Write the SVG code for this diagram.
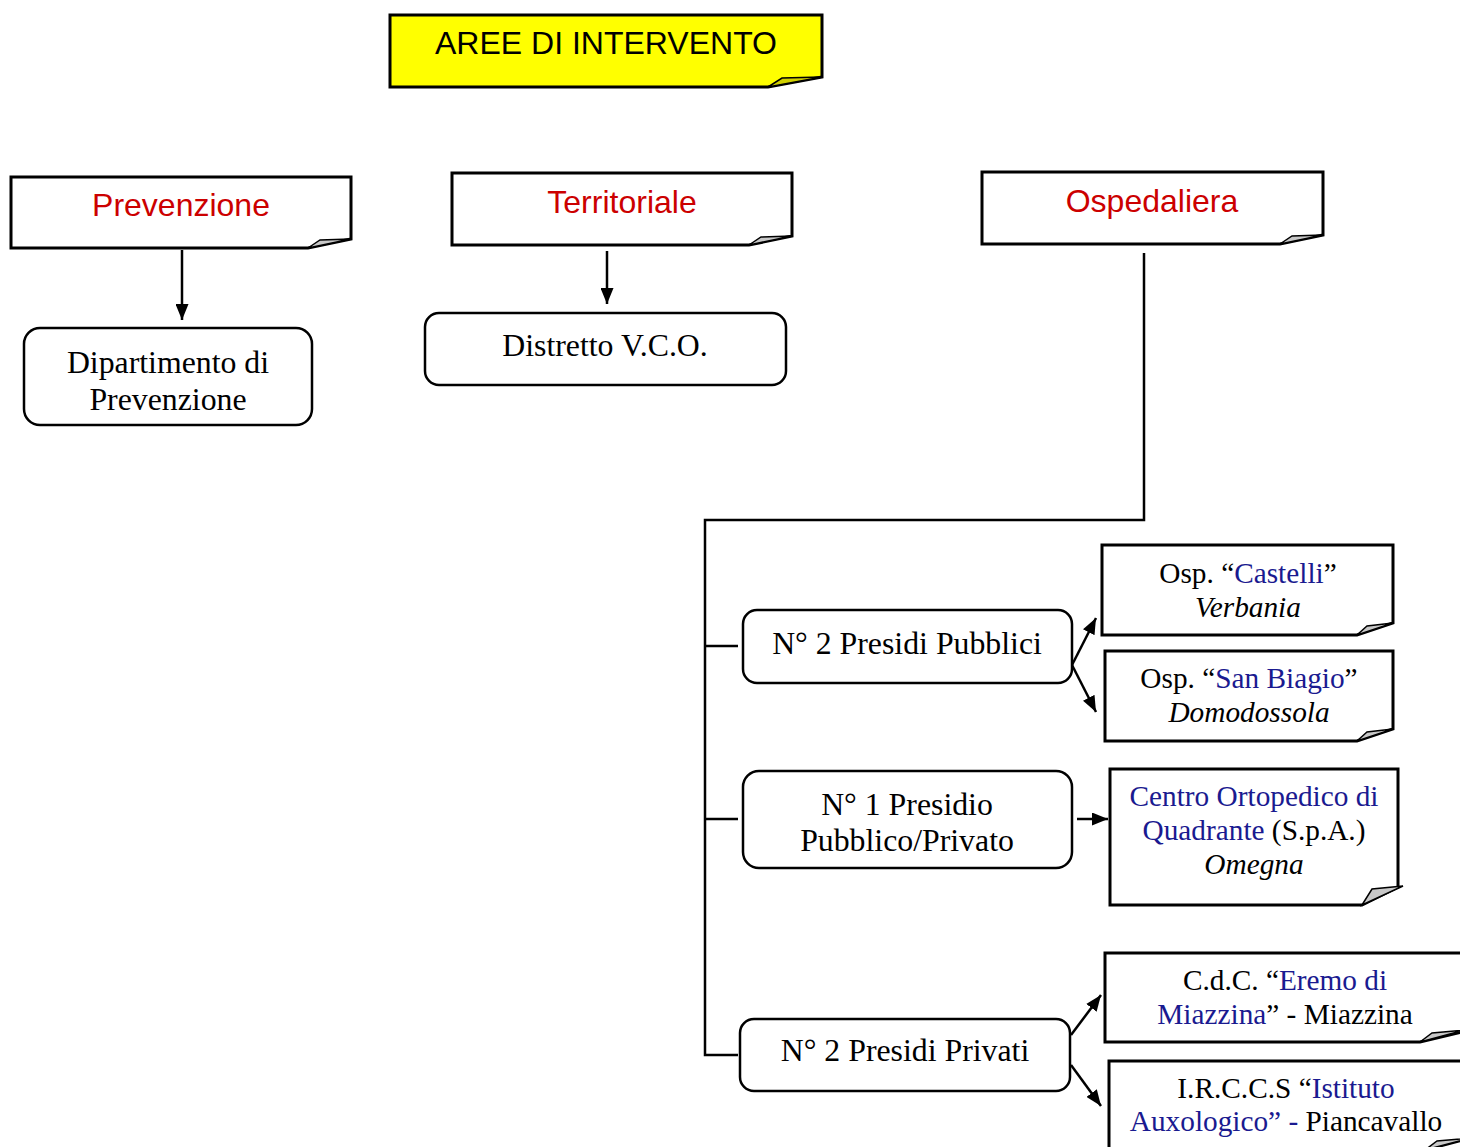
<svg xmlns="http://www.w3.org/2000/svg" width="1460" height="1147" viewBox="0 0 1460 1147">
<style>
.pg{fill:#fff;stroke:#000;stroke-width:3}
.fold{fill:#c8c8c8;stroke:#000;stroke-width:1.5}
.rr{fill:#fff;stroke:#000;stroke-width:2.5}
.ar{font-family:"Liberation Sans",Arial,sans-serif;font-size:32px;text-anchor:middle}
.red{fill:#cc0000}
.tm{font-family:"Liberation Serif","Times New Roman",serif;font-size:31.8px;text-anchor:middle;fill:#000}
.sm{font-size:29.3px}
.bl{fill:#1a1a90}
.it{font-style:italic}
.ln{fill:none;stroke:#000;stroke-width:2.5}
</style>
<defs>
<marker id="ah" markerUnits="userSpaceOnUse" markerWidth="16" markerHeight="13" viewBox="0 0 16 13" refX="16" refY="6.5" orient="auto">
<path d="M0,0 L16,6.5 L0,13 Z" fill="#000"/>
</marker>
</defs>

<g id="title">
<path d="M390,15 H822 V77 L768,87 H390 Z" fill="#ffff00" stroke="#000" stroke-width="3"/>
<path d="M768,87 L782,78 L822,77 Z" fill="#d0d000" stroke="#000" stroke-width="1.5"/>
<text class="ar" x="606" y="54">AREE DI INTERVENTO</text>
</g>

<g id="prevenzione">
<path class="pg" d="M11,177 H351 V239 L308,248 H11 Z"/>
<path class="fold" d="M308,248 L320,240 L351,239 Z"/>
<text class="ar red" x="181" y="216">Prevenzione</text>
</g>

<g id="territoriale">
<path class="pg" d="M452,173 H792 V236 L749,245 H452 Z"/>
<path class="fold" d="M749,245 L761,237 L792,236 Z"/>
<text class="ar red" x="622" y="213">Territoriale</text>
</g>

<g id="ospedaliera">
<path class="pg" d="M982,172 H1323 V235 L1280,244 H982 Z"/>
<path class="fold" d="M1280,244 L1292,236 L1323,235 Z"/>
<text class="ar red" x="1152" y="212">Ospedaliera</text>
</g>

<g id="dipartimento">
<rect class="rr" x="24" y="328" width="288" height="97" rx="16"/>
<text class="tm" x="168" y="373">Dipartimento di</text>
<text class="tm" x="168" y="410">Prevenzione</text>
</g>

<g id="distretto">
<rect class="rr" x="425" y="313" width="361" height="72" rx="14"/>
<text class="tm" x="605" y="356">Distretto V.C.O.</text>
</g>

<g id="pubblici">
<rect class="rr" x="743" y="610" width="329" height="73" rx="14"/>
<text class="tm" x="907" y="654">N° 2 Presidi Pubblici</text>
</g>

<g id="castelli">
<path class="pg" d="M1102,545 H1393 V623 L1357,635 H1102 Z"/>
<path class="fold" d="M1357,635 L1367,626 L1393,623 Z"/>
<text class="tm sm" x="1248" y="583">Osp. “<tspan class="bl">Castelli</tspan>”</text>
<text class="tm sm it" x="1248" y="617">Verbania</text>
</g>

<g id="sanbiagio">
<path class="pg" d="M1105,651 H1393 V729 L1357,741 H1105 Z"/>
<path class="fold" d="M1357,741 L1367,732 L1393,729 Z"/>
<text class="tm sm" x="1249" y="688">Osp. “<tspan class="bl">San Biagio</tspan>”</text>
<text class="tm sm it" x="1249" y="722">Domodossola</text>
</g>

<g id="presidio">
<rect class="rr" x="743" y="771" width="329" height="97" rx="16"/>
<text class="tm" x="907" y="815">N° 1 Presidio</text>
<text class="tm" x="907" y="851">Pubblico/Privato</text>
</g>

<g id="centro">
<path class="pg" d="M1110,769 H1398 V887 L1362,905 H1110 Z"/>
<path class="fold" d="M1362,905 L1372,889 L1403,886 Z"/>
<text class="tm sm bl" x="1254" y="806">Centro Ortopedico di</text>
<text class="tm sm" x="1254" y="840"><tspan class="bl">Quadrante</tspan> (S.p.A.)</text>
<text class="tm sm it" x="1254" y="874">Omegna</text>
</g>

<g id="privati">
<rect class="rr" x="740" y="1019" width="330" height="72" rx="14"/>
<text class="tm" x="905" y="1061">N° 2 Presidi Privati</text>
</g>

<g id="cdc">
<path class="pg" d="M1105,953 H1470 V1030 L1420,1042 H1105 Z"/>
<path class="fold" d="M1420,1042 L1432,1033 L1465,1030 Z"/>
<text class="tm sm" x="1285" y="990">C.d.C. “<tspan class="bl">Eremo di</tspan></text>
<text class="tm sm" x="1285" y="1024"><tspan class="bl">Miazzina</tspan>” - Miazzina</text>
</g>

<g id="irccs">
<path class="pg" d="M1109,1061 H1470 V1138 L1425,1150 H1109 Z"/>
<path class="fold" d="M1425,1150 L1437,1141 L1470,1138 Z"/>
<text class="tm sm" x="1286" y="1098">I.R.C.C.S “<tspan class="bl">Istituto</tspan></text>
<text class="tm sm" x="1286" y="1131"><tspan class="bl">Auxologico” -</tspan> Piancavallo</text>
</g>

<g id="connectors">
<line class="ln" x1="182" y1="250" x2="182" y2="320" marker-end="url(#ah)"/>
<line class="ln" x1="607" y1="251" x2="607" y2="304" marker-end="url(#ah)"/>
<polyline class="ln" points="1144,253 1144,520 705,520 705,1055 738,1055"/>
<line class="ln" x1="705" y1="646" x2="738" y2="646"/>
<line class="ln" x1="705" y1="819" x2="738" y2="819"/>
<line class="ln" x1="1072" y1="665" x2="1096" y2="618" marker-end="url(#ah)"/>
<line class="ln" x1="1072" y1="665" x2="1096" y2="712" marker-end="url(#ah)"/>
<line class="ln" x1="1077" y1="819" x2="1108" y2="819" marker-end="url(#ah)"/>
<line class="ln" x1="1071" y1="1035" x2="1101" y2="995" marker-end="url(#ah)"/>
<line class="ln" x1="1071" y1="1065" x2="1101" y2="1106" marker-end="url(#ah)"/>
</g>
</svg>
